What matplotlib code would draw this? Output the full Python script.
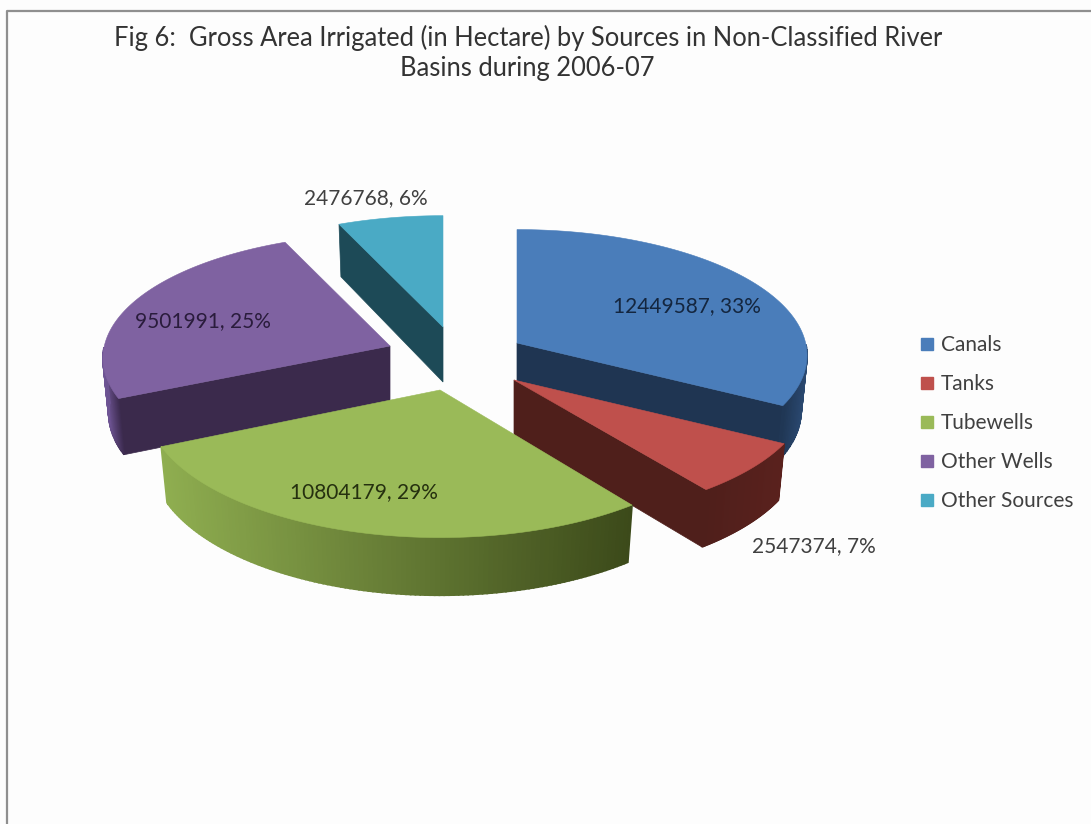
import numpy as np
import matplotlib
matplotlib.use('Agg')
import matplotlib.pyplot as plt
from matplotlib.patches import Polygon
from matplotlib.lines import Line2D
from matplotlib.colors import to_rgb

plt.rcParams['font.family'] = ['Lato', 'DejaVu Sans']

# data
sources = ['Canals', 'Tanks', 'Tubewells', 'Other Wells', 'Other Sources']
areas = [12449587, 2547374, 10804179, 9501991, 2476768]
percents = [33, 7, 29, 25, 6]
title_lines = ['Fig 6:  Gross Area Irrigated (in Hectare) by Sources in Non-Classified River',
               'Basins during 2006-07']

# style, all in pixels of the picture
top_colors = ['#4a7dba', '#bf504c', '#9aba58', '#7f62a1', '#4aaac5']
cut_colors = ['#1f3552', '#4f1f1b', '#46561f', '#3b2a4c', '#1d4a57']
# outer wall colour at the left and right end of the visible wall
wall_colors = [('#1f3552', '#2b4a72'), ('#4f1f1b', '#5a211d'), ('#8fae50', '#3c4a1a'),
               ('#6f5595', '#3d2c50'), ('#1d4a57', '#1d4a57')]
apex = [(517, 343), (514, 380), (440, 390), (390, 346), (443, 327)]
rim_scale = [0.985, 1.0, 1.0, 0.975, 0.965]
front_scale = [1.0, 1.0, 1.05, 1.0, 1.0]
label_pos = [(687, 306), (814, 546), (364, 492), (203, 321), (366, 198)]
label_colors = ['#14263f', '#404040', '#25300f', '#2a1c3c', '#404040']
R, H, K, D = 293, 126.5, 0.1, 55
BOTTOM_SHRINK = 0.98
draw_order = [4, 0, 3, 1, 2]


def project(i, t, r=1.0, down=0.0):
    r = r * rim_scale[i]
    if down:
        r = r * BOTTOM_SHRINK
    u = r * np.sin(t)
    v = r * np.cos(t)
    s = 1 / (1 + K * v)
    h = H * front_scale[i] if v < 0 else H
    return apex[i][0] + R * u * s, apex[i][1] - h * v * s + down * s


fig = plt.figure(figsize=(10.91, 8.24), dpi=100, facecolor='#fdfdfd')
ax = fig.add_axes([0, 0, 1, 1])
ax.set_xlim(0, 1091)
ax.set_ylim(824, 0)
ax.axis('off')

# frame of the chart, only left and top are in the picture
ax.plot([6.5, 6.5, 1091], [824, 10.5, 10.5], color='#8f8f8f', lw=1.6)

edges = np.cumsum([0] + areas) / sum(areas) * 2 * np.pi

for i in draw_order:
    t0, t1 = edges[i], edges[i + 1]
    ts = np.linspace(t0, t1, 120)
    z = 2 + draw_order.index(i)

    # cut faces that look to the front
    for t, seen in ((t0, np.sin(t0) < -1e-6), (t1, np.sin(t1) > 1e-6)):
        if seen:
            pts = [project(i, t, 0), project(i, t), project(i, t, 1, D), project(i, t, 0, D)]
            ax.add_patch(Polygon(pts, fc=cut_colors[i], ec=cut_colors[i], lw=0.5, zorder=z))

    # outer wall in thin strips so the colour can run along x
    wall = ts[np.cos(ts) < 0]
    if len(wall) > 1:
        xs = [project(i, t)[0] for t in wall]
        left, right = to_rgb(wall_colors[i][0]), to_rgb(wall_colors[i][1])
        for a, b in zip(wall[:-1], wall[1:]):
            f = (project(i, a)[0] - min(xs)) / (max(xs) - min(xs))
            col = tuple(l + (r - l) * f for l, r in zip(left, right))
            pts = [project(i, a), project(i, b), project(i, b, 1, D), project(i, a, 1, D)]
            ax.add_patch(Polygon(pts, fc=col, ec=col, lw=1.2, zorder=z))

    # top of the slice
    top = [project(i, 0, 0)] + [project(i, t) for t in ts]
    ax.add_patch(Polygon(top, fc=top_colors[i], ec=top_colors[i], lw=0.4, zorder=z))

    ax.text(label_pos[i][0], label_pos[i][1], f'{areas[i]}, {percents[i]}%', ha='center', va='center',
            fontsize=15, color=label_colors[i], zorder=10)

ax.text(528, 38, title_lines[0], ha='center', va='center', fontsize=18.4, color='#333333')
ax.text(527, 68, title_lines[1], ha='center', va='center', fontsize=18.4, color='#333333')

handles = [Line2D([], [], ls='none', marker='s', ms=9, mfc=col, mec=col) for col in top_colors]
ax.legend(handles, sources, loc='upper left', bbox_to_anchor=(917 / 1091, 1 - 335 / 824), frameon=False,
          fontsize=15, labelcolor='#404040', labelspacing=0.91, handlelength=1.0, handletextpad=0.15,
          borderpad=0, borderaxespad=0)

plt.savefig('out.png', dpi=100, facecolor=fig.get_facecolor())
